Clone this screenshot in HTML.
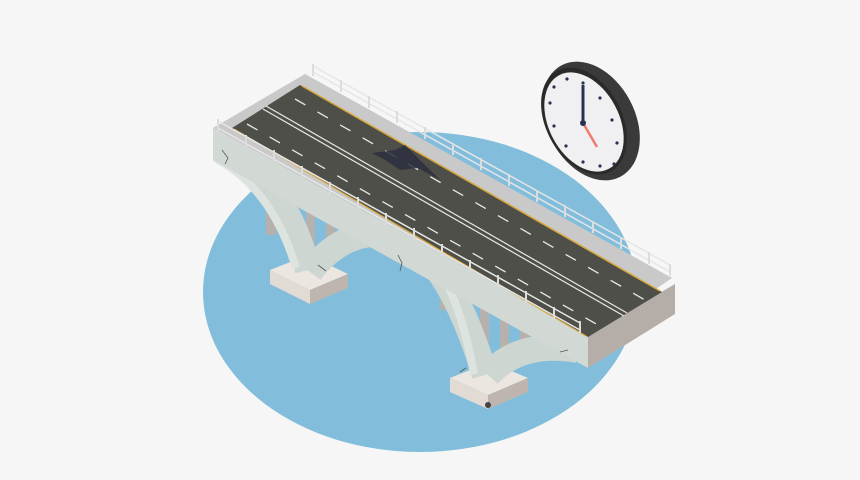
<!DOCTYPE html>
<html><head><style>html,body{margin:0;padding:0;background:#f6f6f6;}svg{display:block}</style></head>
<body>
<svg width="860" height="480" viewBox="0 0 860 480" xmlns="http://www.w3.org/2000/svg">
<rect width="860" height="480" fill="#f6f6f6"/>
<ellipse cx="420" cy="292" rx="217" ry="160" fill="#82bedb"/>
<!-- clock -->
<ellipse cx="591" cy="121" rx="44" ry="63" transform="rotate(-28 591 121)" fill="#3a3a3a"/>
<ellipse cx="584" cy="121" rx="38" ry="57" transform="rotate(-28 584 121)" fill="#2a2a2a"/>
<ellipse cx="584" cy="122" rx="35" ry="53" transform="rotate(-28 584 122)" fill="#f0f0f2"/>
<g fill="#2a3250">
<circle cx="583" cy="83" r="1.6"/><circle cx="600" cy="98" r="1.6"/><circle cx="612" cy="120" r="1.6"/><circle cx="617" cy="143" r="1.6"/><circle cx="614" cy="164" r="1.6"/><circle cx="600" cy="166" r="1.6"/><circle cx="583" cy="162" r="1.6"/><circle cx="566" cy="146" r="1.6"/><circle cx="554" cy="126" r="1.6"/><circle cx="550" cy="103" r="1.6"/><circle cx="554" cy="87" r="1.6"/><circle cx="567" cy="79" r="1.6"/>
</g>
<line x1="583" y1="123" x2="597" y2="147" stroke="#f27b6f" stroke-width="2.5"/>
<line x1="583" y1="123" x2="583" y2="85" stroke="#2a3250" stroke-width="3"/>
<circle cx="583" cy="123" r="3" fill="#2a3250"/>
<!-- columns -->
<g fill="#b7b1ad">
<rect x="266" y="175" width="10" height="60"/><rect x="287" y="185" width="9" height="70"/><rect x="306" y="195" width="9" height="65"/><rect x="326" y="205" width="9" height="50"/><rect x="345" y="215" width="9" height="30"/>
<rect x="440" y="265" width="9" height="45"/><rect x="460" y="275" width="9" height="55"/><rect x="480" y="287" width="9" height="70"/><rect x="500" y="297" width="9" height="60"/><rect x="520" y="307" width="9" height="45"/><rect x="540" y="317" width="9" height="30"/>
</g>
<!-- piers -->
<polygon points="270,270 308,255 348,274 310,290" fill="#ece6e0"/>
<polygon points="270,270 310,290 310,304 270,284" fill="#e2dbd4"/>
<polygon points="310,290 348,274 348,288 310,304" fill="#bdb5ae"/>
<polygon points="450,378 490,362 528,378 488,395" fill="#ece6e0"/>
<polygon points="450,378 488,395 488,409 450,392" fill="#e2dbd4"/>
<polygon points="488,395 528,378 528,392 488,409" fill="#bdb5ae"/>
<!-- arches -->
<g fill="none" stroke="#cdd6d1" stroke-width="26" stroke-linecap="butt">
<path d="M222,150 Q285,180 308,270"/>
<path d="M310,272 Q345,225 400,235 Q450,260 485,375"/>
<path d="M488,375 Q520,340 578,350"/>
</g>
<g fill="none" stroke="#dde4df" stroke-width="8">
<path d="M215,158 Q272,188 296,268"/>
<path d="M412,238 Q455,270 474,374"/>
</g>
<!-- deck -->
<polygon points="305,74 672,278 588,335 213,128" fill="#c9c9c9"/>
<polygon points="213,128 588,335 588,368 213,160" fill="#d2d9d4"/>
<polygon points="588,335 675,284 675,314 588,368" fill="#b5aea8"/>
<polygon points="300,85 662,292 588,337 232,128" fill="#4f4f49"/>
<line x1="302" y1="86" x2="660" y2="291" stroke="#d8a73a" stroke-width="1.5"/>
<line x1="234" y1="129" x2="586" y2="336" stroke="#d8a73a" stroke-width="1.2"/>
<line x1="266" y1="106" x2="627" y2="313" stroke="#e8e8e8" stroke-width="1.2"/>
<line x1="263" y1="109" x2="624" y2="316" stroke="#e8e8e8" stroke-width="1.2"/>
<path d="M295,99 L645,300" stroke="#e8e8e8" stroke-width="1.3" stroke-dasharray="12,14"/>
<path d="M247,124 L605,329" stroke="#e8e8e8" stroke-width="1.3" stroke-dasharray="12,14"/>
<path d="M372,153 L395,150 L405,145 L415,155 L440,180 L418,168 L400,170 L385,160 Z" fill="#2c2f3e" opacity="0.85"/>
<!-- railings -->
<g stroke="#e6e6e6" stroke-width="1.5" fill="none">
<path d="M313,66 L670,265 M313,72 L670,272"/>
<path d="M218,121 L580,323 M218,128 L580,330"/>
</g>
<g stroke="#dcdcdc" stroke-width="2">
<path d="M313,64 v12 M341,80 v12 M369,96 v12 M397,111 v12 M425,127 v12 M453,143 v12 M481,158 v12 M509,174 v12 M537,190 v12 M565,205 v12 M593,221 v12 M621,237 v12 M649,252 v12 M670,264 v12"/>
<path d="M218,119 v12 M246,135 v12 M274,150 v12 M302,166 v12 M330,182 v12 M358,197 v12 M386,213 v12 M414,228 v12 M442,244 v12 M470,260 v12 M498,275 v12 M526,291 v12 M554,307 v12 M580,321 v12"/>
</g>
<g stroke="#555" stroke-width="0.8" fill="none">
<path d="M222,150 l6,8 l-3,6"/><path d="M398,255 l4,8 l-2,8"/><path d="M318,265 l8,6"/><path d="M560,352 l8,-2"/><path d="M460,372 l6,-4"/>
</g>
<circle cx="488" cy="405" r="3" fill="#444"/>
</svg>
</body></html>
